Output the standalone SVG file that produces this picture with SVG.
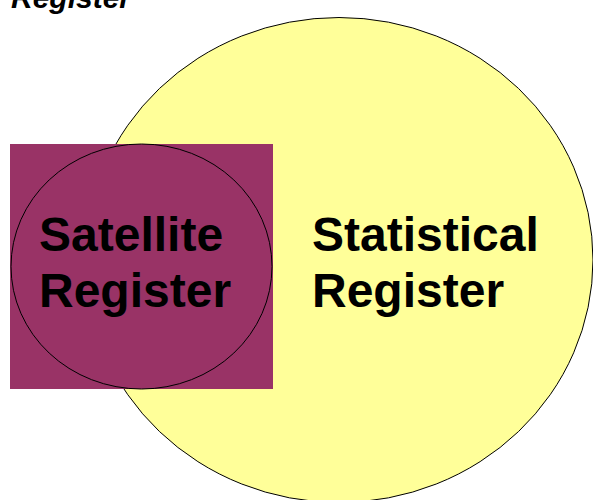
<svg xmlns="http://www.w3.org/2000/svg" width="593" height="500" viewBox="0 0 593 500">
<style>
.lbl{font-family:"Liberation Sans",Arial,sans-serif;font-weight:bold;font-size:48px;fill:#000}
.ttl{font-family:"Liberation Sans",Arial,sans-serif;font-weight:bold;font-style:italic;font-size:30px;fill:#000}
</style>
<rect width="593" height="500" fill="#fff"/>
<text class="ttl" x="11" y="8">Register</text>
<g id="statistical">
<ellipse cx="339" cy="260" rx="254" ry="242.5" fill="#ffff99" stroke="#000" stroke-width="1"/>
<text class="lbl" x="312" y="251">Statistical</text>
<text class="lbl" x="312" y="307">Register</text>
</g>
<g id="satellite">
<rect x="10" y="144" width="263" height="245" fill="#993366"/>
<ellipse cx="141.5" cy="266.5" rx="130.5" ry="122.5" fill="none" stroke="#000" stroke-width="1"/>
<text class="lbl" x="39" y="251">Satellite</text>
<text class="lbl" x="39" y="307">Register</text>
</g>
<g id="connectors"/>
</svg>
